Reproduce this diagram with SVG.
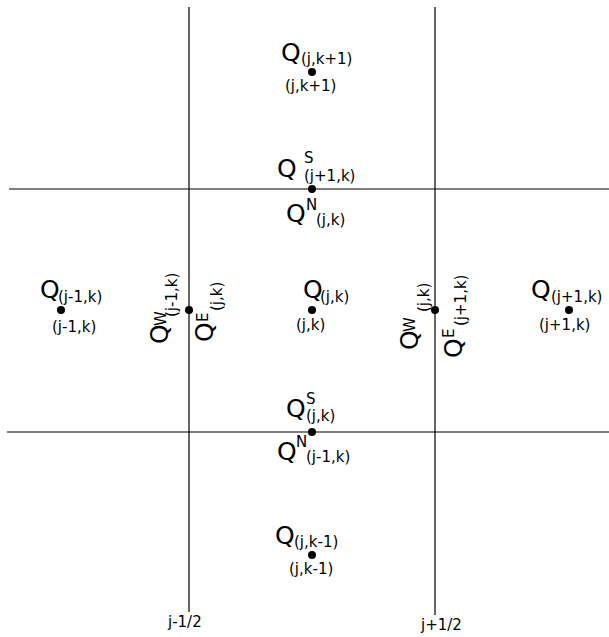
<svg xmlns="http://www.w3.org/2000/svg" width="609" height="637" viewBox="0 0 609 637">
<style>
.ln{stroke:#000;stroke-width:1.2;fill:none}
.dot{fill:#000}
text{font-family:"DejaVu Sans",sans-serif;fill:#000}
.q{font-size:25px}
.s{font-size:15px}
</style>
<rect width="609" height="637" fill="#fff"/>
<g id="connectors">
<line class="ln" x1="189" y1="7" x2="189" y2="612"/>
<line class="ln" x1="435" y1="7" x2="435" y2="615"/>
<line class="ln" x1="9" y1="189" x2="609" y2="189"/>
<line class="ln" x1="7" y1="432" x2="609" y2="432"/>
</g>
<g id="q-j-k1">
<circle class="dot" cx="312" cy="72" r="4"/>
<text class="q" x="281" y="61">Q</text><text class="s" x="301" y="64">(j,k+1)</text>
<text class="s" x="285" y="91">(j,k+1)</text>
</g>
<g id="face-n">
<circle class="dot" cx="312" cy="189" r="4"/>
<text class="q" x="277" y="177">Q</text><text class="s" x="304" y="163">S</text><text class="s" x="304" y="181">(j+1,k)</text>
<text class="q" x="286" y="222">Q</text><text class="s" x="306" y="210">N</text><text class="s" x="316" y="225">(j,k)</text>
</g>
<g id="q-j1-k">
<circle class="dot" cx="61" cy="310" r="4"/>
<text class="q" x="40" y="298">Q</text><text class="s" x="58" y="302">(j-1,k)</text>
<text class="s" x="52" y="332">(j-1,k)</text>
</g>
<g id="face-w">
<circle class="dot" cx="189" cy="310" r="4"/>
<text class="q" transform="translate(168,344) rotate(-90)">Q</text>
<text class="s" transform="translate(166,326) rotate(-90)">W</text>
<text class="s" transform="translate(177,317) rotate(-90)">(j-1,k)</text>
<text class="q" transform="translate(213,342) rotate(-90)">Q</text>
<text class="s" transform="translate(208,322) rotate(-90)">E</text>
<text class="s" transform="translate(222,311) rotate(-90)">(j,k)</text>
</g>
<g id="q-j-k">
<circle class="dot" cx="312" cy="310" r="4"/>
<text class="q" x="303" y="298">Q</text><text class="s" x="320" y="302">(j,k)</text>
<text class="s" x="296" y="330">(j,k)</text>
</g>
<g id="face-e">
<circle class="dot" cx="435" cy="310" r="4"/>
<text class="q" transform="translate(418,350) rotate(-90)">Q</text>
<text class="s" transform="translate(415,332) rotate(-90)">W</text>
<text class="s" transform="translate(429,312) rotate(-90)">(j,k)</text>
<text class="q" transform="translate(462,358) rotate(-90)">Q</text>
<text class="s" transform="translate(454,338) rotate(-90)">E</text>
<text class="s" transform="translate(466,326) rotate(-90)">(j+1,k)</text>
</g>
<g id="q-j1p-k">
<circle class="dot" cx="569" cy="310" r="4"/>
<text class="q" x="531" y="298">Q</text><text class="s" x="551" y="302">(j+1,k)</text>
<text class="s" x="539" y="330">(j+1,k)</text>
</g>
<g id="face-s">
<circle class="dot" cx="312" cy="432" r="4"/>
<text class="q" x="286" y="417">Q</text><text class="s" x="306" y="404">S</text><text class="s" x="306" y="421">(j,k)</text>
<text class="q" x="277" y="460">Q</text><text class="s" x="296" y="447">N</text><text class="s" x="306" y="462">(j-1,k)</text>
</g>
<g id="q-j-k-1">
<circle class="dot" cx="312" cy="555" r="4"/>
<text class="q" x="275" y="544">Q</text><text class="s" x="294" y="547">(j,k-1)</text>
<text class="s" x="289" y="574">(j,k-1)</text>
</g>
<g id="labels">
<text class="s" x="168" y="627">j-1/2</text>
<text class="s" x="421" y="630">j+1/2</text>
</g>
</svg>
